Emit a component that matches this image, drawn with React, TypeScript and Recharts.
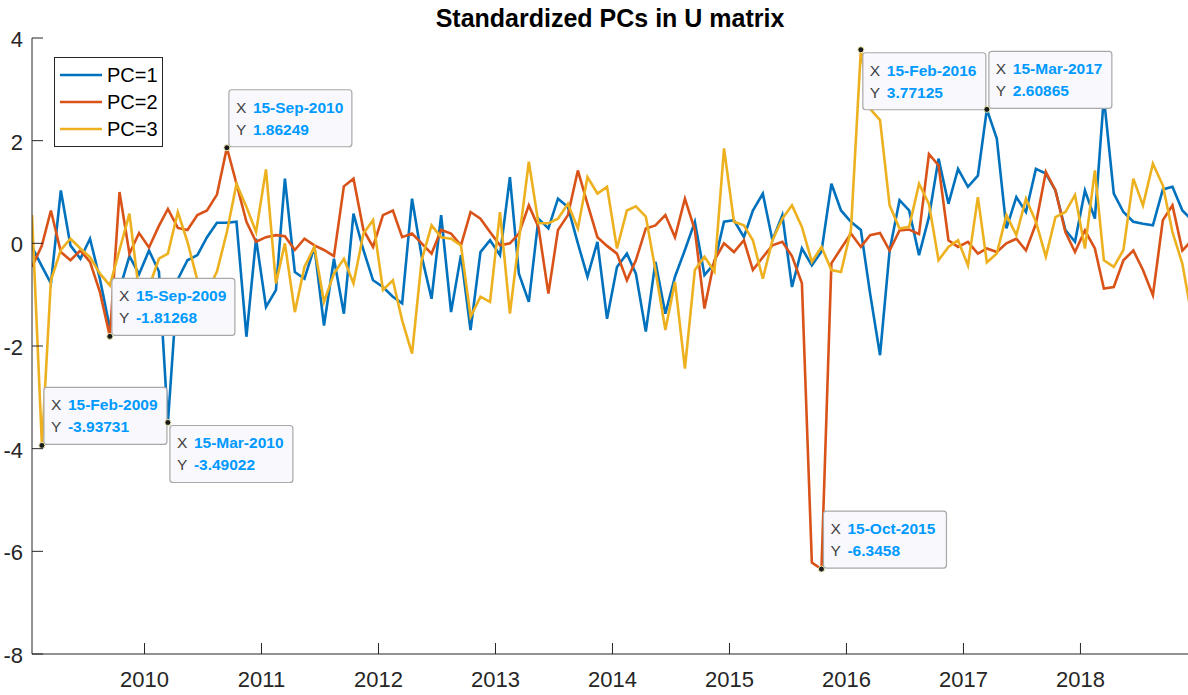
import React from "react";
import { ComposedChart, Line, XAxis, YAxis, ReferenceDot } from "recharts";

// monthly observations, 15-Jan-2009 .. 15-Dec-2018
const startYear = 2009;

const pc1 = [
  -0.07, -0.45, -0.78, 1.03, -0.04, -0.3, 0.09, -0.7, -1.65, -0.9,
  -0.25, -0.6, -0.14, -0.55, -3.49022, -0.7, -0.33, -0.23, 0.12, 0.4,
  0.4, 0.42, -1.82, 0.09, -1.24, -0.91, 1.26, -0.56, -0.69, -0.07,
  -1.6, -0.3, -1.37, 0.58, -0.13, -0.72, -0.85, -1.04, -1.17, 0.87,
  -0.25, -1.08, 0.55, -1.34, -0.23, -1.69, -0.17, 0.06, -0.23, 1.29,
  -0.59, -1.14, 0.48, 0.29, 0.87, 0.71, 0, -0.65, 0.03, -1.47,
  -0.46, -0.2, -0.59, -1.72, -0.36, -1.37, -0.65, -0.13, 0.42, -0.62,
  -0.39, 0.42, 0.45, 0.12, 0.64, 0.97, 0.06, 0.55, -0.85, -0.1,
  -0.43, -0.16, 1.16, 0.64, 0.42, 0.26, -0.98, -2.18, -0.14, 0.84,
  0.64, -0.23, 0.51, 1.65, 0.77, 1.45, 1.1, 1.32, 2.60865, 2.04,
  0.29, 0.9, 0.61, 1.45, 1.36, 1.03, 0.26, 0.03, 1.03, 0.48,
  2.85, 0.97, 0.61, 0.42, 0.38, 0.35, 1.05, 1.1, 0.64, 0.45,
];

const pc2 = [
  -0.46, -0.04, 0.64, -0.17, -0.33, -0.14, -0.36, -0.95, -1.81268, 1.0,
  -0.2, 0.2, -0.08, 0.34, 0.67, 0.3, 0.26, 0.55, 0.64, 0.95,
  1.86249, 1.16, 0.42, 0.03, 0.12, 0.16, 0.14, -0.13, 0.09, -0.04,
  -0.13, -0.25, 1.11, 1.26, 0.26, -0.07, 0.55, 0.64, 0.12, 0.19,
  0, -0.2, 0.26, 0.19, -0.04, 0.61, 0.48, 0.22, -0.04, 0,
  0.19, 0.74, 0.32, -0.98, 0.26, 0.55, 1.42, 0.77, 0.12, -0.05,
  -0.2, -0.72, -0.33, 0.29, 0.35, 0.55, 0.12, 0.87, 0.26, -1.27,
  -0.33, 0, -0.17, 0.06, -0.52, -0.27, -0.04, 0.03, -0.25, -0.78,
  -6.22, -6.3458, -0.39, -0.1, 0.19, -0.07, 0.16, 0.2, -0.14, 0.25,
  0.27, 0.18, 1.74, 1.52, 0.06, -0.07, 0.03, -0.2, -0.1, -0.17,
  0, 0.09, -0.14, 0.38, 1.39, 1.03, 0.22, -0.17, 0.25, -0.1,
  -0.88, -0.85, -0.33, -0.14, -0.52, -1.01, 0.45, 0.74, -0.14, 0.06,
];

const pc3 = [
  0.55, -3.93731, -0.72, -0.13, 0.09, -0.1, -0.27, -0.59, -0.82, -0.13,
  0.58, -0.95, -0.85, -0.3, -0.2, 0.61, 0.03, -0.72, -0.95, -0.55,
  0.22, 1.16, 0.71, 0.22, 1.44, -0.78, 0, -1.34, -0.46, -0.07,
  -1.14, -0.59, -0.3, -0.78, 0.19, 0.45, -0.91, -0.72, -1.5, -2.15,
  -0.33, 0.35, 0.12, 0.09, -0.04, -1.43, -1.04, -1.14, 0.61, -1.37,
  0.06, 1.59, 0.39, 0.39, 0.48, 0.77, 0.29, 1.29, 0.97, 1.1,
  -0.1, 0.64, 0.72, 0.52, -0.52, -1.69, -0.75, -2.44, -0.52, -0.26,
  -0.55, 1.85, 0.42, 0.35, 0.06, -0.69, 0.06, 0.48, 0.74, 0.32,
  -0.36, -0.07, -0.52, -0.56, 0.26, 3.77125, 2.62, 2.4, 0.74, 0.29,
  0.32, 1.16, 0.77, -0.33, -0.07, 0.06, -0.43, 0.9, -0.37, -0.2,
  0.55, 0.16, 0.87, 0.42, -0.26, 0.51, 0.61, 0.94, -0.1, 1.42,
  -0.33, -0.46, -0.13, 1.26, 0.74, 1.55, 1.13, 0.22, -0.4, -1.45,
];

const yearTicks = [2010, 2011, 2012, 2013, 2014, 2015, 2016, 2017, 2018];
const yTicks = [-8, -6, -4, -2, 0, 2, 4];

const seriesNames = ["PC=1", "PC=2", "PC=3"];
const seriesColors = ["#0072BD", "#D95319", "#EDB120"];

// data tips: month index, series value, shown text
const tips = [
  { month: 1, value: -3.93731, date: "15-Feb-2009", text: "-3.93731", place: "above" },
  { month: 8, value: -1.81268, date: "15-Sep-2009", text: "-1.81268", place: "above" },
  { month: 14, value: -3.49022, date: "15-Mar-2010", text: "-3.49022", place: "below" },
  { month: 20, value: 1.86249, date: "15-Sep-2010", text: "1.86249", place: "above" },
  { month: 81, value: -6.3458, date: "15-Oct-2015", text: "-6.3458", place: "above" },
  { month: 85, value: 3.77125, date: "15-Feb-2016", text: "3.77125", place: "below" },
  { month: 98, value: 2.60865, date: "15-Mar-2017", text: "2.60865", place: "above" },
];

// fractional year of the 15th of month m
const monthToYear = (m: number) => {
  const y = startYear + Math.floor(m / 12);
  const mo = m % 12;
  const start = Date.UTC(y, 0, 1);
  const end = Date.UTC(y + 1, 0, 1);
  return y + (Date.UTC(y, mo, 15) - start) / (end - start);
};

const data = pc1.map((v, i) => ({ t: monthToYear(i), pc1: v, pc2: pc2[i], pc3: pc3[i] }));
const tFirst = data[0].t;
const tLast = data[data.length - 1].t;

const FONT = "'Liberation Sans', Arial, Helvetica, sans-serif";
const AX = "#262626";

const BottomTick = (props: any) => {
  const { x, y, payload } = props;
  return (
    <g>
      <line x1={x} x2={x} y1={y} y2={y - 11} stroke={AX} strokeWidth={1} />
      <text x={x} y={y + 33} textAnchor="middle" fontSize={22} fill={AX} fontFamily={FONT}>
        {payload.value}
      </text>
    </g>
  );
};

const TopTick = (props: any) => {
  const { x, y } = props;
  return <line x1={x} x2={x} y1={y} y2={y + 11} stroke={AX} strokeWidth={1} />;
};

const LeftTick = (props: any) => {
  const { x, y, payload } = props;
  return (
    <g>
      <line x1={x} x2={x + 11} y1={y} y2={y} stroke={AX} strokeWidth={1} />
      <text x={x - 9} y={y + 9} textAnchor="end" fontSize={22} fill={AX} fontFamily={FONT}>
        {payload.value}
      </text>
    </g>
  );
};

const RightTick = (props: any) => {
  const { x, y } = props;
  return <line x1={x} x2={x - 11} y1={y} y2={y} stroke={AX} strokeWidth={1} />;
};

const TipShape = (props: any) => {
  const { cx, cy, tip } = props;
  const w = 123;
  const h = 57;
  const bx = cx + 2;
  const by = tip.place === "above" ? cy - h - 1 : cy + 3;
  return (
    <g fontFamily={FONT}>
      <rect x={bx} y={by} width={w} height={h} rx={3} fill="#f9f9fd" stroke="#a8a8a8" strokeWidth={1.2} />
      <text x={bx + 7} y={by + 23} fontSize={15.5} fill="#404040">X</text>
      <text x={bx + 24} y={by + 23} fontSize={15.5} fontWeight="bold" fill="#0099ff">{tip.date}</text>
      <text x={bx + 7} y={by + 45} fontSize={15.5} fill="#404040">Y</text>
      <text x={bx + 24} y={by + 45} fontSize={15.5} fontWeight="bold" fill="#0099ff">{tip.text}</text>
      <circle cx={cx} cy={cy} r={3} fill="#1a1a1a" stroke="#e9e6b0" strokeWidth={1} />
    </g>
  );
};

export default function App() {
  return (
    <div
      style={{
        position: "absolute",
        left: 0,
        top: 0,
        width: 1188,
        height: 695,
        overflow: "hidden",
        background: "#fff",
        fontFamily: FONT,
      }}
    >
      <div
        style={{
          position: "absolute",
          left: 0,
          width: 1220,
          top: 3,
          textAlign: "center",
          fontSize: 25,
          lineHeight: "30px",
          fontWeight: "bold",
          color: "#000",
        }}
      >
        Standardized PCs in U matrix
      </div>
      <ComposedChart width={1196} height={695} data={data} margin={{ top: 38, right: 4, bottom: 0, left: 0 }}>
        <XAxis
          dataKey="t"
          type="number"
          domain={[tFirst, tLast]}
          allowDataOverflow
          ticks={yearTicks}
          interval={0}
          tickSize={0}
          tickMargin={0}
          tick={<BottomTick />}
          axisLine={{ stroke: AX }}
          height={41}
        />
        <XAxis
          xAxisId="top"
          orientation="top"
          type="number"
          domain={[tFirst, tLast]}
          allowDataOverflow
          ticks={yearTicks}
          interval={0}
          tickSize={0}
          tickMargin={0}
          tick={<TopTick />}
          axisLine={{ stroke: AX }}
          height={0}
        />
        <YAxis
          type="number"
          domain={[-8, 4]}
          allowDataOverflow
          ticks={yTicks}
          interval={0}
          tickSize={0}
          tickMargin={0}
          tick={<LeftTick />}
          axisLine={{ stroke: AX }}
          width={32}
        />
        <YAxis
          yAxisId="r"
          orientation="right"
          type="number"
          domain={[-8, 4]}
          allowDataOverflow
          ticks={yTicks}
          interval={0}
          tickSize={0}
          tickMargin={0}
          tick={<RightTick />}
          axisLine={{ stroke: AX }}
          width={0}
        />
        <Line type="linear" dataKey="pc1" stroke={seriesColors[0]} strokeWidth={2.6} dot={false} isAnimationActive={false} />
        <Line type="linear" dataKey="pc2" stroke={seriesColors[1]} strokeWidth={2.6} dot={false} isAnimationActive={false} />
        <Line type="linear" dataKey="pc3" stroke={seriesColors[2]} strokeWidth={2.6} dot={false} isAnimationActive={false} />
        {tips.map((tip) => (
          <ReferenceDot
            key={tip.date}
            x={monthToYear(tip.month)}
            y={tip.value}
            r={3}
            ifOverflow="visible"
            shape={(p: any) => <TipShape {...p} tip={tip} />}
          />
        ))}
      </ComposedChart>
      <div
        style={{
          position: "absolute",
          left: 54,
          top: 57,
          width: 109,
          height: 90,
          border: `1px solid ${AX}`,
          background: "#fff",
          boxSizing: "border-box",
        }}
      >
        {seriesNames.map((name, i) => (
          <div key={name} style={{ position: "absolute", left: 4, top: 5 + i * 27, height: 24, display: "flex", alignItems: "center" }}>
            <svg width={44} height={24}>
              <line x1={1} x2={43} y1={12} y2={12} stroke={seriesColors[i]} strokeWidth={2.6} />
            </svg>
            <span style={{ marginLeft: 4, fontSize: 20, color: "#000", lineHeight: "24px" }}>{name}</span>
          </div>
        ))}
      </div>
    </div>
  );
}
